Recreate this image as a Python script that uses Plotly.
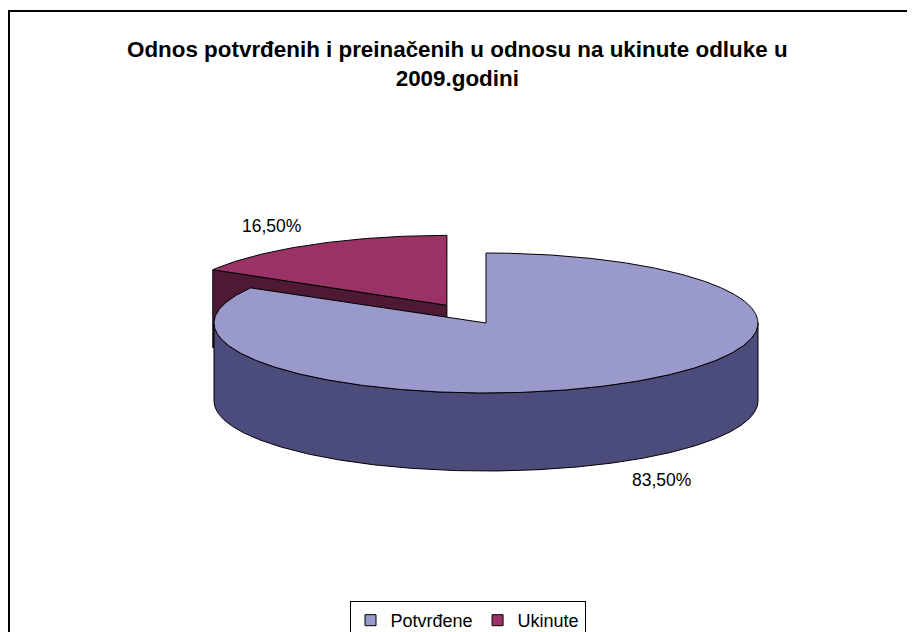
import numpy as np
import plotly.graph_objects as go

# ---- data ----
labels = ["Potvrđene", "Ukinute"]
values = [83.5, 16.5]
title_text = "Odnos potvrđenih i preinačenih u odnosu na ukinute odluke u<br>2009.godini"

# ---- style ----
top_colors = ["#9999CC", "#993366"]
side_colors = ["#4B4B7C", "#4D1933"]
explode = [0.0, 0.29]
FONT = "Liberation Sans, Arial, sans-serif"

W, H = 915, 632
OFF = 8                # page body margin offset (px)
CX, CY = 486, 323      # center of pie top face (window px)
RX, RY = 272, 70       # ellipse radii
DEPTH = 78             # thickness
LABEL_R = 1.3


def px(wx):
    return (wx - OFF) / W


def py(wy):
    return 1 - (wy - OFF) / H


fracs = np.array(values, dtype=float) / sum(values)
starts = 90 - 360 * np.concatenate([[0], np.cumsum(fracs)[:-1]])
ends = starts - 360 * fracs


def pt(cx, cy, a_deg, dz=0.0):
    a = np.radians(a_deg)
    return cx + RX * np.cos(a), cy - RY * np.sin(a) + dz


def arc(cx, cy, a0, a1, dz=0.0, n=None):
    if n is None:
        n = max(int(abs(a1 - a0) * 2), 4)
    a = np.linspace(a0, a1, n)
    x, y = pt(cx, cy, a, dz)
    return list(x), list(y)


fig = go.Figure()
annotations = []


def poly(xs, ys, color):
    fig.add_trace(go.Scatter(
        x=xs + [xs[0]], y=ys + [ys[0]], mode="lines", fill="toself",
        fillcolor=color, line=dict(color="black", width=1),
        hoverinfo="skip", showlegend=False))


order = sorted(range(len(values)),
               key=lambda i: -np.sin(np.radians((starts[i] + ends[i]) / 2)))

for i in order:
    s, e = starts[i], ends[i]
    mid = (s + e) / 2
    cx = CX + explode[i] * RX * np.cos(np.radians(mid))
    cy = CY - explode[i] * RY * np.sin(np.radians(mid))
    # radial faces
    for edge, vis in ((s, np.cos(np.radians(s)) < -1e-6),
                      (e, np.cos(np.radians(e)) > 1e-6)):
        if vis:
            ox, oy = pt(cx, cy, edge)
            poly([cx, ox, ox, cx], [cy, oy, oy + DEPTH, cy + DEPTH], side_colors[i])
    # outer wall (front part where sin<0)
    aa = np.linspace(e, s, 2000)
    front = np.sin(np.radians(aa)) <= 0
    if front.any():
        idx = np.where(front)[0]
        segs = np.split(idx, np.where(np.diff(idx) != 1)[0] + 1)
        for seg in segs:
            a0, a1 = aa[seg[0]], aa[seg[-1]]
            tx, ty = arc(cx, cy, a0, a1)
            bx, by = arc(cx, cy, a1, a0, DEPTH)
            poly(tx + bx, ty + by, side_colors[i])
    # top face
    tx, ty = arc(cx, cy, e, s)
    poly([cx] + tx, [cy] + ty, top_colors[i])
    # label
    lx = cx + LABEL_R * RX * np.cos(np.radians(mid))
    ly = cy - LABEL_R * RY * np.sin(np.radians(mid))
    if np.sin(np.radians(mid)) < 0:
        ly += DEPTH
    annotations.append(dict(
        x=lx, y=ly, xref="x", yref="y", showarrow=False,
        text=f"{values[i]:.2f}%".replace(".", ","),
        font=dict(family=FONT, size=17.5, color="black")))

for i in range(len(values)):
    fig.add_trace(go.Scatter(
        x=[None], y=[None], mode="markers", name=labels[i],
        marker=dict(symbol="square", size=11, color=top_colors[i],
                    line=dict(color="black", width=1))))

annotations.append(dict(
    x=px(457.5), y=py(63.5), xref="paper", yref="paper", showarrow=False,
    text=f"<b>{title_text}</b>", xanchor="center", yanchor="middle",
    font=dict(family=FONT, size=22.4, color="black")))

fig.update_layout(
    width=W, height=H,
    margin=dict(l=0, r=0, t=0, b=0),
    paper_bgcolor="white", plot_bgcolor="white",
    xaxis=dict(range=[OFF, OFF + W], visible=False, fixedrange=True),
    yaxis=dict(range=[OFF + H, OFF], visible=False, fixedrange=True),
    annotations=annotations,
    showlegend=True,
    legend=dict(orientation="h", x=px(467.5), xanchor="center",
                y=py(601), yanchor="top",
                bordercolor="black", borderwidth=1, bgcolor="white",
                font=dict(family=FONT, size=18, color="black"),
                itemwidth=30, traceorder="normal"),
    shapes=[dict(type="rect", xref="paper", yref="paper",
                 x0=1 / W, y0=1 - 3 / H, x1=1.05, y1=-0.05,
                 line=dict(color="black", width=2))],
)

fig.write_html("out.html")
